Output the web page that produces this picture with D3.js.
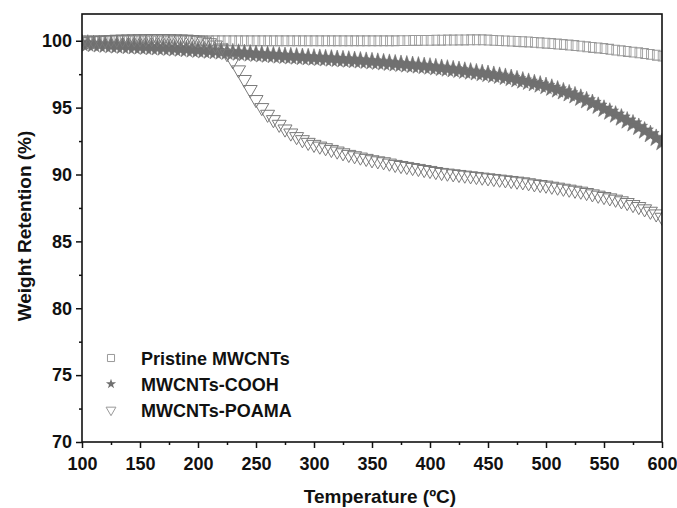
<!DOCTYPE html>
<html><head><meta charset="utf-8">
<script src="https://cdn.jsdelivr.net/npm/d3@7/dist/d3.min.js"></script>
<style>body{margin:0;background:#fff}svg{display:block}text{font-family:Arial,"Liberation Sans",sans-serif;font-weight:bold;fill:#111}</style>
</head><body><svg id="c" width="677" height="508"></svg>
<script>
const temps = [100,105,110,115,120,125,130,135,140,145,150,155,160,165,170,175,180,185,190,195,
200,205,210,215,220,225,230,235,240,245,250,255,260,265,270,275,280,285,290,295,
300,305,310,315,320,325,330,335,340,345,350,355,360,365,370,375,380,385,390,395,
400,405,410,415,420,425,430,435,440,445,450,455,460,465,470,475,480,485,490,495,
500,505,510,515,520,525,530,535,540,545,550,555,560,565,570,575,580,585,590,595,600];
const pristine = [100,100,100,100,100,100,100,100,100,100,
100,100,100,100,100,100,100,100,100,100,
100,100,100,100,100,100,100,100,100,100,
100,100,100,100,100,100,100,100,100,100,
100,100,100,100,100,100,100,100,100,100,
100,100,100,100,100,100.01,100.01,100.02,100.02,100.03,
100.03,100.04,100.04,100.05,100.05,100.06,100.06,100.07,100.07,100.07,
100.05,100.03,100.01,99.99,99.97,99.95,99.93,99.91,99.88,99.85,
99.82,99.79,99.75,99.72,99.68,99.64,99.6,99.55,99.5,99.46,
99.42,99.36,99.3,99.25,99.2,99.15,99.1,99.04,98.98,98.92,98.85];
const cooh = [99.8,99.77,99.74,99.71,99.68,99.65,99.63,99.61,99.59,99.57,
99.55,99.53,99.51,99.49,99.47,99.45,99.42,99.39,99.36,99.33,
99.3,99.27,99.24,99.21,99.18,99.15,99.12,99.09,99.06,99.03,
99.0,98.97,98.94,98.91,98.88,98.85,98.82,98.8,98.77,98.75,
98.72,98.7,98.67,98.65,98.62,98.6,98.57,98.54,98.51,98.48,
98.45,98.41,98.37,98.33,98.29,98.25,98.21,98.17,98.13,98.09,
98.05,98.0,97.95,97.9,97.85,97.8,97.74,97.68,97.62,97.56,
97.5,97.43,97.36,97.28,97.2,97.1,97.01,96.91,96.81,96.71,
96.6,96.47,96.34,96.2,96.05,95.9,95.72,95.53,95.33,95.12,
94.9,94.68,94.46,94.24,94.02,93.8,93.54,93.27,93.0,92.72,92.4];
const poama = [99.95,99.98,100.0,100.03,100.06,100.09,100.11,100.12,100.13,100.14,
100.15,100.15,100.16,100.16,100.16,100.15,100.14,100.13,100.12,100.09,
100.05,99.97,99.85,99.68,99.45,99.03,98.5,97.82,97.1,96.35,
95.6,95.0,94.5,94.1,93.75,93.4,93.1,92.83,92.6,92.4,
92.25,92.12,92.0,91.87,91.75,91.62,91.5,91.4,91.3,91.2,
91.1,91.02,90.95,90.85,90.75,90.67,90.6,90.52,90.45,90.37,
90.3,90.22,90.15,90.1,90.05,90.0,89.95,89.9,89.85,89.8,
89.75,89.7,89.65,89.6,89.55,89.5,89.45,89.38,89.3,89.25,
89.2,89.12,89.05,88.97,88.9,88.82,88.75,88.65,88.55,88.45,
88.35,88.25,88.15,88.03,87.9,87.75,87.6,87.43,87.25,87.05,86.8];
const xTicks = [100,150,200,250,300,350,400,450,500,550,600];
const yTicks = [70,75,80,85,90,95,100];
const seriesNames = ["Pristine MWCNTs","MWCNTs-COOH","MWCNTs-POAMA"];

const svg = d3.select("#c");
const L=82, R=662, T=14, B=442;
const x = d3.scaleLinear().domain([100,600]).range([L,R]);
const y = d3.scaleLinear().domain([70,102]).range([B,T]);
const FONT = "Arial, 'Liberation Sans', sans-serif";

const xAxis = d3.axisBottom(x).tickValues(xTicks).tickSize(6).tickFormat(d3.format("d"));
const xMinor = d3.axisBottom(x).tickValues(d3.range(125,600,50)).tickSize(3).tickFormat("");
const yAxis = d3.axisLeft(y).tickValues(yTicks).tickSize(6).tickFormat(d3.format("d"));
const yMinor = d3.axisLeft(y).tickValues([72.5,77.5,82.5,87.5,92.5,97.5]).tickSize(3).tickFormat("");

function styleAxis(g){g.select(".domain").remove();g.selectAll("line").attr("stroke","#111").attr("stroke-width",1.5);}
svg.append("g").attr("transform",`translate(0,${B})`).call(xAxis).call(styleAxis)
  .selectAll("text").attr("font-size",18).attr("dy","1.05em").attr("fill","#111").style("font-family",FONT).style("font-weight","bold");
svg.append("g").attr("transform",`translate(0,${B})`).call(xMinor).call(styleAxis);
svg.append("g").attr("transform",`translate(${L},0)`).call(yAxis).call(styleAxis)
  .selectAll("text").attr("font-size",18).attr("x",-10).attr("fill","#111").style("font-family",FONT).style("font-weight","bold");
svg.append("g").attr("transform",`translate(${L},0)`).call(yMinor).call(styleAxis);

const sq = d3.symbol().type(d3.symbolSquare).size(80);
const st = d3.symbol().type(d3.symbolStar).size(95);
const tri = d3.symbol().type(d3.symbolTriangle).size(85);

svg.append("clipPath").attr("id","pc").append("rect").attr("x",L).attr("y",T).attr("width",R-L).attr("height",B-T);
const plot = svg.append("g").attr("clip-path","url(#pc)");

plot.append("g").selectAll("path").data(temps.map((t,i)=>[t,pristine[i]])).join("path")
  .attr("d",sq).attr("transform",d=>`translate(${x(d[0])},${y(d[1])}) scale(0.85,1.1)`)
  .attr("fill","none").attr("stroke","#999").attr("stroke-width",1);
plot.append("g").selectAll("path").data(temps.map((t,i)=>[t,cooh[i]])).join("path")
  .attr("d",st).attr("transform",d=>`translate(${x(d[0])},${y(d[1])})`)
  .attr("fill","#707070").attr("stroke","#707070").attr("stroke-width",0.6);
plot.append("g").selectAll("path").data(temps.map((t,i)=>[t,poama[i]])).join("path")
  .attr("d",tri).attr("transform",d=>`translate(${x(d[0])},${y(d[1])}) rotate(180)`)
  .attr("fill","none").attr("stroke","#7a7a7a").attr("stroke-width",1);

svg.append("rect").attr("x",L).attr("y",T).attr("width",R-L).attr("height",B-T)
  .attr("fill","none").attr("stroke","#111").attr("stroke-width",1.6);

svg.append("text").attr("x",380).attr("y",503).attr("text-anchor","middle").attr("font-size",19).text("Temperature (ºC)");
svg.append("text").attr("transform","translate(31,226) rotate(-90)").attr("text-anchor","middle").attr("font-size",19).text("Weight Retention (%)");

const leg = svg.append("g");
const legY = [358,384,410];
const legSym = [
  g=>g.append("path").attr("d",d3.symbol().type(d3.symbolSquare).size(50)()).attr("fill","none").attr("stroke","#999").attr("stroke-width",1),
  g=>g.append("path").attr("d",d3.symbol().type(d3.symbolStar).size(32)()).attr("fill","#707070"),
  g=>g.append("path").attr("d",d3.symbol().type(d3.symbolTriangle).size(42)()).attr("transform","rotate(180)").attr("fill","none").attr("stroke","#999").attr("stroke-width",1)
];
seriesNames.forEach((n,i)=>{
  const g = leg.append("g").attr("transform",`translate(111,${legY[i]})`);
  legSym[i](g);
  leg.append("text").attr("x",141).attr("y",legY[i]+6.5).attr("font-size",18).text(n);
});
</script></body></html>
